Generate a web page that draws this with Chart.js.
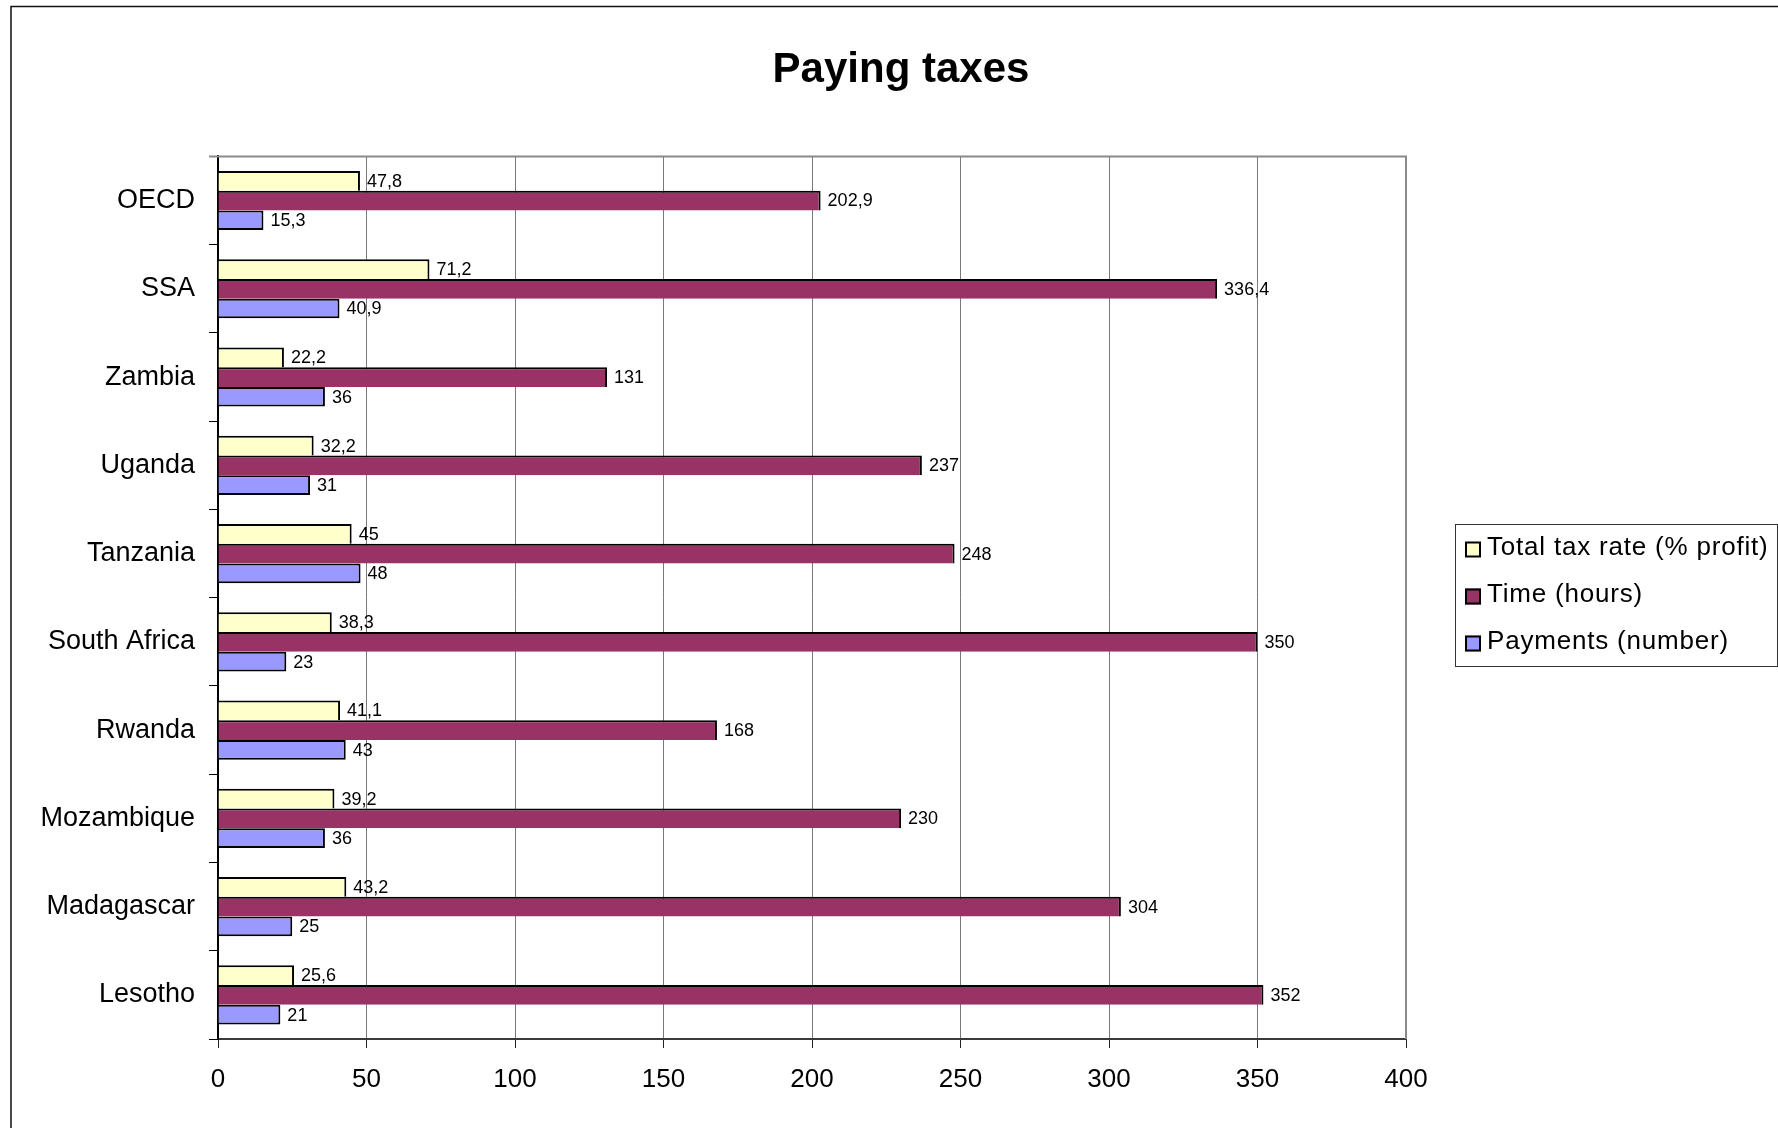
<!DOCTYPE html>
<html>
<head>
<meta charset="utf-8">
<script src="https://cdn.jsdelivr.net/npm/chart.js@4/dist/chart.umd.min.js"></script>
<style>
  html, body { margin: 0; padding: 0; background: #fff; }
  #wrap { width: 1778px; height: 1128px; }
</style>
</head>
<body>
<div id="wrap"><canvas id="c" width="1778" height="1128"></canvas></div>
<script>
const categories = ['OECD', 'SSA', 'Zambia', 'Uganda', 'Tanzania', 'South Africa', 'Rwanda', 'Mozambique', 'Madagascar', 'Lesotho'];
const seriesNames = ['Total tax rate (% profit)', 'Time (hours)', 'Payments (number)'];
const totalTaxRate = [47.8, 71.2, 22.2, 32.2, 45, 38.3, 41.1, 39.2, 43.2, 25.6];
const timeHours = [202.9, 336.4, 131, 237, 248, 350, 168, 230, 304, 352];
const payments = [15.3, 40.9, 36, 31, 48, 23, 43, 36, 25, 21];
const xTicks = [0, 50, 100, 150, 200, 250, 300, 350, 400];

const FONT = "'Liberation Sans', Arial, sans-serif";

const frameAndBorders = {
  id: 'frameAndBorders',
  beforeDraw(chart) {
    const ctx = chart.ctx;
    ctx.save();
    ctx.fillStyle = '#fff';
    ctx.fillRect(0, 0, chart.width, chart.height);
    ctx.strokeStyle = '#111';
    ctx.lineWidth = 1.5;
    ctx.beginPath();
    ctx.moveTo(11, chart.height + 5);
    ctx.lineTo(11, 6.5);
    ctx.lineTo(chart.width + 5, 6.5);
    ctx.stroke();
    ctx.restore();
  },
  afterDraw(chart) {
    const ctx = chart.ctx, a = chart.chartArea;
    ctx.save();
    ctx.strokeStyle = '#8a8a8a';
    ctx.lineWidth = 2;
    ctx.beginPath();
    ctx.moveTo(a.left - 9, a.top);
    ctx.lineTo(a.right, a.top);
    ctx.lineTo(a.right, a.bottom);
    ctx.stroke();
    ctx.restore();
  }
};

const valueLabels = {
  id: 'valueLabels',
  afterDatasetsDraw(chart) {
    const ctx = chart.ctx;
    ctx.save();
    ctx.font = '18px ' + FONT;
    ctx.fillStyle = '#000';
    ctx.textAlign = 'left';
    ctx.textBaseline = 'middle';
    chart.data.datasets.forEach((ds, di) => {
      const meta = chart.getDatasetMeta(di);
      meta.data.forEach((el, i) => {
        const txt = String(ds.data[i]).replace('.', ',');
        ctx.fillText(txt, el.x + 7, el.y + 1);
      });
    });
    ctx.restore();
  }
};

const boxLegend = {
  id: 'boxLegend',
  afterDraw(chart) {
    const ctx = chart.ctx, a = chart.chartArea;
    const L = a.right + 49;
    const W = 322, H = 142;
    const T = (a.top + a.bottom) / 2 - 3 - H / 2;
    ctx.save();
    ctx.strokeStyle = '#333';
    ctx.lineWidth = 1;
    ctx.strokeRect(Math.round(L) + 0.5, Math.round(T) + 0.5, W, H);
    chart.data.datasets.forEach((ds, i) => {
      const base = Math.round(T) + 31 + i * 47;
      ctx.fillStyle = ds.backgroundColor;
      ctx.fillRect(L + 10, base - 13.5, 16, 16);
      ctx.strokeStyle = '#000';
      ctx.lineWidth = 2;
      ctx.strokeRect(L + 11, base - 12.5, 14, 14);
      ctx.fillStyle = '#000';
      ctx.font = '26px ' + FONT;
      ctx.textAlign = 'left';
      ctx.textBaseline = 'alphabetic';
      try { ctx.letterSpacing = '0.8px'; } catch (e) {}
      ctx.fillText(ds.label, L + 32, base);
      try { ctx.letterSpacing = '0px'; } catch (e) {}
    });
    ctx.restore();
  }
};

const topRightBorder = { top: 2, right: 2, bottom: 0, left: 0 };
const fullBorder = { top: 2, right: 2, bottom: 2, left: 0 };

new Chart(document.getElementById('c'), {
  type: 'bar',
  data: {
    labels: categories,
    datasets: [
      { label: seriesNames[0], data: totalTaxRate, backgroundColor: '#FFFFCC', borderColor: '#000', borderWidth: topRightBorder },
      { label: seriesNames[1], data: timeHours, backgroundColor: '#993366', borderColor: '#000', borderWidth: topRightBorder },
      { label: seriesNames[2], data: payments, backgroundColor: '#9999FF', borderColor: '#000', borderWidth: fullBorder }
    ]
  },
  options: {
    indexAxis: 'y',
    responsive: false,
    animation: false,
    devicePixelRatio: 1,
    categoryPercentage: 0.67,
    barPercentage: 1.0,
    layout: { padding: { left: 24, right: 0, top: 0, bottom: 0 } },
    plugins: {
      legend: { display: false },
      tooltip: { enabled: false },
      title: {
        display: true,
        text: 'Paying taxes',
        color: '#000',
        font: { family: FONT, size: 42, weight: 'bold' },
        padding: { top: 45, bottom: 61 }
      }
    },
    scales: {
      x: {
        type: 'linear',
        position: 'bottom',
        min: 0,
        max: 400,
        afterBuildTicks(s) { s.ticks = xTicks.map(v => ({ value: v })); },
        afterFit(s) { s.height = 89; },
        grid: { color: '#7a7a7a', lineWidth: 1, tickColor: '#222', tickLength: 9, drawTicks: true },
        border: { display: true, color: '#3a3a3a', width: 2 },
        ticks: { color: '#000', font: { family: FONT, size: 26 }, padding: 16, maxRotation: 0 }
      },
      y: {
        type: 'category',
        position: 'left',
        afterFit(s) { s.width = 194; },
        grid: { drawOnChartArea: false, drawTicks: true, tickLength: 9, color: '#000', offset: true },
        border: { display: true, color: '#000', width: 2 },
        ticks: { color: '#000', font: { family: FONT, size: 27 }, padding: 14 }
      },
      spacer: {
        type: 'linear',
        axis: 'y',
        position: 'right',
        display: true,
        afterFit(s) { s.width = 372; },
        grid: { display: false },
        border: { display: false },
        ticks: { display: false }
      }
    }
  },
  plugins: [frameAndBorders, valueLabels, boxLegend]
});
</script>
</body>
</html>
